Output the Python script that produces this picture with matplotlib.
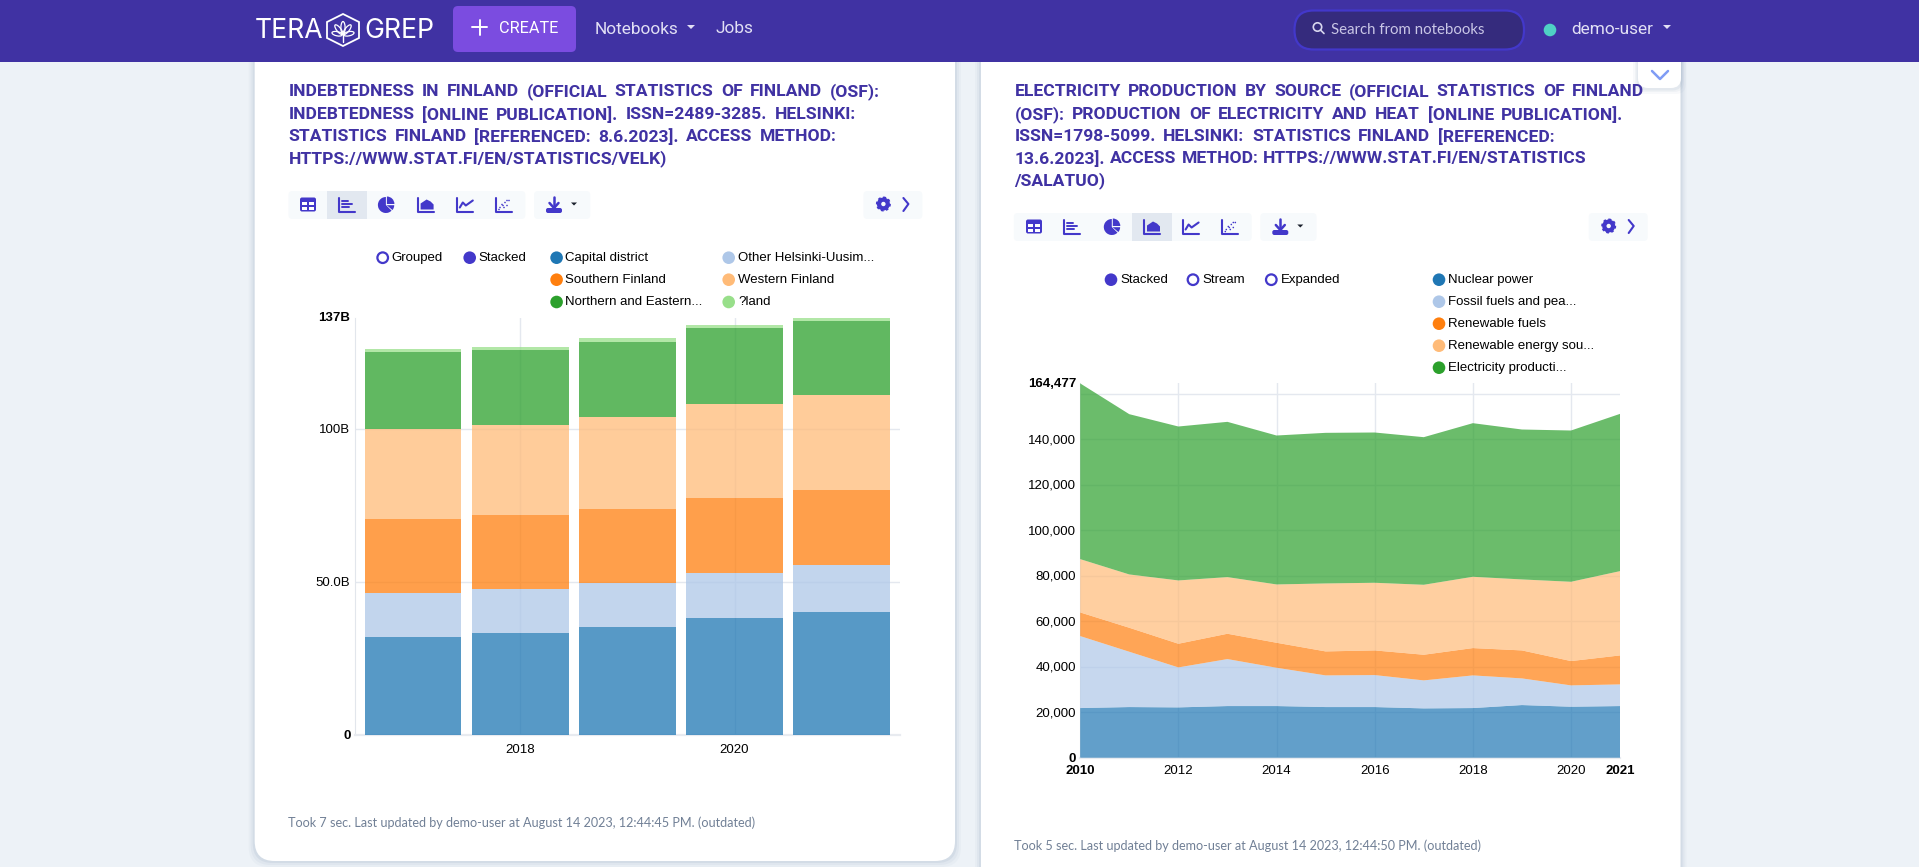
import numpy as np
import matplotlib
matplotlib.use("Agg")
import matplotlib.pyplot as plt
from matplotlib.patches import FancyBboxPatch, Rectangle, Circle, Polygon, Wedge, Ellipse
from matplotlib.transforms import ScaledTranslation

W, H = 1919, 867

# left chart, billions
bar_years = [2017, 2018, 2019, 2020, 2021]
bar_names = ["Capital district", "Other Helsinki-Uusim...", "Southern Finland", "Western Finland",
             "Northern and Eastern...", "?land"]
capital = [32.2, 33.45, 35.5, 38.2, 40.4]
other_uusimaa = [14.4, 14.4, 14.4, 14.9, 15.3]
southern = [24.1, 24.0, 24.2, 24.4, 24.4]
western = [29.55, 29.5, 29.9, 30.8, 31.0]
northern = [24.9, 24.5, 24.5, 24.8, 24.4]
aland = [0.95, 1.1, 1.2, 0.9, 1.0]

# right chart, GWh
area_years = list(range(2010, 2022))
area_names = ["Nuclear power", "Fossil fuels and pea...", "Renewable fuels", "Renewable energy sou...",
              "Electricity producti..."]
nuclear = [21816, 22255, 22108, 22694, 22694, 22255, 22255, 21669, 21816, 23133, 22401, 22694]
fossil = [31625, 24304, 17570, 20644, 16837, 13909, 14055, 12299, 14348, 11713, 9371, 9517]
renew_fuels = [10395, 10542, 10395, 11128, 10981, 10542, 10835, 11274, 12006, 12299, 10688, 12738]
renew_energy = [23426, 23426, 27819, 24890, 25623, 29868, 29722, 30746, 31332, 31186, 34846, 37042]
electricity = [77215, 70425, 67642, 68228, 65446, 66179, 66032, 64861, 67497, 65886, 66471, 69107]

colors = ["#1f77b4", "#aec7e8", "#ff7f0e", "#ffbb78", "#2ca02c", "#98df8a"]
indigo = "#4338ca"
title_col = "#4032a3"
chart_font = "Liberation Sans"
ui_font = "Roboto"


def px(size):
    return size * 0.72


fig = plt.figure(figsize=(W / 100, H / 100), dpi=100, facecolor="#edf2f7")
bg = fig.add_axes([0, 0, 1, 1])
bg.set_xlim(0, W)
bg.set_ylim(H, 0)
bg.axis("off")


def box(x0, y0, x1, y1, col, r=0, edge="none", lw=0, z=1, alpha=1):
    if r == 0:
        p = Rectangle((x0, y0), x1 - x0, y1 - y0, fc=col, ec=edge, lw=lw, zorder=z, alpha=alpha)
    else:
        p = FancyBboxPatch((x0 + r, y0 + r), x1 - x0 - 2 * r, y1 - y0 - 2 * r,
                           boxstyle=f"round,pad={r}", fc=col, ec=edge, lw=lw, zorder=z, alpha=alpha)
    bg.add_patch(p)


def label(x, y, s, size=13.25, col="black", font=chart_font, weight="normal", ha="left", z=6):
    return bg.text(x, y, s, fontsize=px(size), color=col, family=font, weight=weight,
                   ha=ha, va="center", zorder=z)


def line(xs, ys, col=indigo, lw=1.4, z=5):
    bg.plot(xs, ys, color=col, lw=lw, zorder=z, solid_capstyle="round", solid_joinstyle="round")


def caret(x, y, col="white", s=4):
    bg.add_patch(Polygon([(x - s, y - s / 2), (x + s, y - s / 2), (x, y + s / 2)], fc=col, ec="none", zorder=6))


def dot(x, y, col, hollow=False, r=6.3):
    if hollow:
        bg.add_patch(Circle((x, y), r - 1, fc="white", ec=col, lw=1.6, zorder=5))
    else:
        bg.add_patch(Circle((x, y), r, fc=col, ec="none", zorder=5))


def title_line(s, y, x0, x1):
    # words are spread out over the line
    words = s.split(" ")
    rend = fig.canvas.get_renderer()
    items = [label(x0, y + 1.2, w, size=17.5, col=title_col, font=ui_font, weight="bold") for w in words]
    widths = [t.get_window_extent(rend).width for t in items]
    gap = (x1 - x0 - sum(widths)) / max(len(words) - 1, 1)
    x = x0
    for t, w in zip(items, widths):
        t.set_x(x)
        x += w + gap


def icon(kind, cx, cy):
    s = 8
    if kind == "table":
        box(cx - s, cy - 7, cx + s, cy + 7, indigo, r=2, z=5)
        for xa, xb in [(cx - 6, cx - 1), (cx + 1, cx + 6)]:
            box(xa, cy - 3, xb, cy, "white", z=6)
            box(xa, cy + 2, xb, cy + 5, "white", z=6)
        return
    if kind == "pie":
        # y runs downwards on this axes, so angles go clockwise
        bg.add_patch(Wedge((cx - 0.5, cy + 0.5), s, 45, 270, fc=indigo, ec="none", zorder=5))
        bg.add_patch(Wedge((cx + 0.5, cy - 0.5), s - 0.5, 270, 360, fc=indigo, ec="none", zorder=5))
        bg.add_patch(Wedge((cx + 0.3, cy + 0.7), s - 0.5, 0, 40, fc=indigo, ec="none", zorder=5))
        return
    line([cx - s, cx - s, cx + s], [cy - s + 1, cy + s - 1, cy + s - 1], lw=1.5)
    if kind == "bar":
        for dy, w in [(-4, 6), (-1, 10), (2.5, 7)]:
            line([cx - s + 3, cx - s + 3 + w], [cy + dy, cy + dy], lw=1.4)
    elif kind == "area":
        bg.add_patch(Polygon([(cx - s + 3, cy + 5), (cx - s + 3, cy - 1), (cx - 2, cy - 3), (cx + 1, cy - 5),
                              (cx + 5, cy - 3), (cx + s, cy), (cx + s, cy + 5)], fc=indigo, ec="none", zorder=5))
    elif kind == "line":
        line([cx - s + 3, cx - 2, cx + 1, cx + s], [cy + 3, cy - 2, cy + 1, cy - 4], lw=1.5)
    elif kind == "scatter":
        for dx, dy in [(-4, 3), (-2, 0), (0, 3), (1, -2), (3, 1), (5, -4), (-1, 1), (3, -4), (-5, 5)]:
            bg.add_patch(Circle((cx + dx, cy + dy), 0.8, fc=indigo, ec="none", zorder=5))


def toolbar(x0, y0, cells, sel, dl, gear):
    y1 = y0 + 28
    cy = (y0 + y1) / 2
    box(x0, y0, cells[-1] + 21.4, y1, "#f7fafc", r=4, z=2)
    box(sel[0], y0, sel[1], y1, "#e2e8f0", z=3)
    for c, k in zip(cells, ["table", "bar", "pie", "area", "line", "scatter"]):
        icon(k, c, cy - 0.5)
    box(dl, y0, dl + 56.3, y1, "#f7fafc", r=4, z=2)
    x = dl + 20
    line([x, x], [cy - 8, cy + 2], lw=1.8)
    line([x - 4.5, x, x + 4.5], [cy - 2, cy + 3, cy - 2], lw=1.8)
    box(x - 8, cy + 3, x + 8, cy + 8, indigo, r=2, z=5)
    caret(dl + 40, cy - 1, col="#1a202c", s=3)
    box(gear, y0, gear + 59, y1, "#f7fafc", r=4, z=2)
    gx = gear + 20
    bg.add_patch(Circle((gx, cy - 1), 6.5, fc=indigo, ec=indigo, lw=1.4, ls=(0, (1.4, 1.2)), zorder=5))
    bg.add_patch(Circle((gx, cy - 1), 2.2, fc="#f7fafc", ec="none", zorder=6))
    line([gx + 20, gx + 25, gx + 20], [cy - 7, cy - 1, cy + 6], lw=1.5)


# page chrome
for d, a in [(6, 0.05), (4, 0.08), (2, 0.12)]:
    box(254.7 - d, 40, 955 + d, 861 + d, "#8296b4", r=20, z=0.5, alpha=a)
    box(981 - d, 40, 1680.5 + d, 900, "#8296b4", r=20, z=0.5, alpha=a)
box(254.7, 30, 955, 861, "white", r=20, z=1)
box(981, 30, 1680.5, 900, "white", r=20, z=1)
for d, a in [(5, 0.05), (3, 0.07), (1.5, 0.1)]:
    box(1638 - d, 40, 1681 + d, 88 + d + 1, "#8296b4", r=10, z=1.2, alpha=a)
box(1638, 40, 1681, 88, "white", r=10, z=1.5)
line([1652, 1660, 1668], [71, 79, 71], col="#7f9cf5", lw=1.8)

box(0, 0, W, 62, "#4032a3", z=4)
box(453, 6, 576, 52, "#7b4ce0", r=5, z=5)
line([472, 487], [27, 27], col="white", lw=1.4, z=6)
line([479.5, 479.5], [19.5, 34.5], col="white", lw=1.4, z=6)
label(499, 28.5, "CREATE", size=16.3, col="white", font=ui_font)

# logo
label(255, 31.5, "TERA", size=26.6, col="white", font="Inter")
label(364, 31.5, "GREP", size=26.6, col="white", font="Inter")
bg.add_patch(Polygon([(343, 14), (359, 22), (359, 38), (343, 46), (327, 38), (327, 22)],
                     fc="none", ec="white", lw=1.3, zorder=6))
for ang, ln in [(0, 9), (-38, 8.5), (38, 8.5), (-78, 7.5), (78, 7.5)]:
    rad = np.deg2rad(ang)
    c = (343 + np.sin(rad) * ln * 0.8, 35 - np.cos(rad) * ln * 0.8)
    bg.add_patch(Ellipse(c, 4.2, ln * 1.4, angle=ang, fc="none", ec="white", lw=0.9, zorder=6))
line([343, 343], [35, 42], col="white", lw=1, z=6)

label(594.6, 29.5, "Notebooks", size=17.3, col="#e2e0f5", font=ui_font)
caret(691, 27, col="#e2e0f5")
label(715, 28.5, "Jobs", size=17.3, col="#e2e0f5", font=ui_font)
box(1294.5, 10.5, 1524, 49.5, "#352b7d", r=19, edge="#4338ca", lw=1.6, z=5)
bg.add_patch(Circle((1317.5, 27), 4.2, fc="none", ec="#d8d6ee", lw=1.2, zorder=6))
line([1320.5, 1324], [30, 33.5], col="#d8d6ee", lw=1.2, z=6)
label(1331, 29.5, "Search from notebooks", size=15, col="#c9c6e6", font="Lato")
bg.add_patch(Circle((1550, 30), 6.3, fc="#4fd1c5", ec="none", zorder=6))
label(1571.6, 29.5, "demo-user", size=17.3, col="#e2e0f5", font=ui_font)
caret(1667, 27, col="#e2e0f5")

# titles
title_line("INDEBTEDNESS IN FINLAND (OFFICIAL STATISTICS OF FINLAND (OSF):", 90.7, 288.4, 880)
title_line("INDEBTEDNESS [ONLINE PUBLICATION]. ISSN=2489-3285. HELSINKI:", 113.7, 288.4, 856.5)
title_line("STATISTICS FINLAND [REFERENCED: 8.6.2023]. ACCESS METHOD:", 135.7, 288.4, 836.5)
title_line("HTTPS://WWW.STAT.FI/EN/STATISTICS/VELK)", 157.7, 288.4, 658)
title_line("ELECTRICITY PRODUCTION BY SOURCE (OFFICIAL STATISTICS OF FINLAND", 90.7, 1014.4, 1644)
title_line("(OSF): PRODUCTION OF ELECTRICITY AND HEAT [ONLINE PUBLICATION].", 113.7, 1014.4, 1623.6)
title_line("ISSN=1798-5099. HELSINKI: STATISTICS FINLAND [REFERENCED:", 135.7, 1014.4, 1554.5)
title_line("13.6.2023]. ACCESS METHOD: HTTPS://WWW.STAT.FI/EN/STATISTICS", 157.7, 1014.4, 1587)
title_line("/SALATUO)", 179.7, 1014.4, 1105)

toolbar(288.4, 191, [308, 346.6, 386.4, 425.6, 464.8, 504], (327, 367), 534, 863.4)
toolbar(1013.8, 213, [1034, 1072, 1112.3, 1152, 1190.6, 1230.3], (1131.9, 1172.2), 1260.3, 1588.7)

# legends
dot(382.7, 257.7, indigo, hollow=True)
label(391.5, 257.7, "Grouped")
dot(469.7, 257.7, indigo)
label(478, 257.7, "Stacked")
leg_x = [(556.6, 565), (728.7, 738)]
leg_y = [257.7, 279.7, 302]
for i, name in enumerate(bar_names):
    cx, tx = leg_x[i % 2]
    dot(cx, leg_y[i // 2], colors[i])
    label(tx, leg_y[i // 2], name)

dot(1111, 279.7, indigo)
label(1120, 279.7, "Stacked")
dot(1193, 279.7, indigo, hollow=True)
label(1202.8, 279.7, "Stream")
dot(1271.3, 279.7, indigo, hollow=True)
label(1280.5, 279.7, "Expanded")
for i, name in enumerate(area_names):
    dot(1439, 279.7 + 22 * i, colors[i])
    label(1448, 279.7 + 22 * i, name)

label(288.3, 822.5, "Took 7 sec. Last updated by demo-user at August 14 2023, 12:44:45 PM. (outdated)",
      size=12.6, col="#718096", font="Lato")
label(1014.3, 845.8, "Took 5 sec. Last updated by demo-user at August 14 2023, 12:44:50 PM. (outdated)",
      size=12.6, col="#718096", font="Lato")


def chart_axes(x0, y0, x1, y1, xpad):
    ax = fig.add_axes([x0 / W, 1 - y1 / H, (x1 - x0) / W, (y1 - y0) / H], facecolor="none")
    ax.set_axisbelow(True)
    for s in ["top", "right"]:
        ax.spines[s].set_visible(False)
    ax.spines["left"].set_color("#e2e6ec")
    ax.spines["left"].set_linewidth(0.8)
    ax.spines["bottom"].set_color("#e8ebf0")
    ax.spines["bottom"].set_linewidth(1.6)
    ax.grid(True, color="#e4e8ef", lw=1)
    ax.tick_params(length=0, labelsize=px(13.25), labelcolor="black")
    ax.tick_params(axis="y", pad=3)
    ax.tick_params(axis="x", pad=xpad)
    return ax


def finish_ticks(ax, axis, skip_grid, bold):
    ticks = ax.xaxis.get_major_ticks() if axis == "x" else ax.yaxis.get_major_ticks()
    for i, t in enumerate(ticks):
        t.label1.set_family(chart_font)
        if axis == "y":
            t.label1.set_transform(t.label1.get_transform() + ScaledTranslation(0, 0.6 / 100, fig.dpi_scale_trans))
        if i in skip_grid:
            t.gridline.set_visible(False)
        if i in bold:
            t.label1.set_fontweight("bold")


# bars
ax1 = chart_axes(354.6, 317.6, 900, 735.4, 6.5)
series = [capital, other_uusimaa, southern, western, northern, aland]
pos = np.arange(len(bar_years))
bottom = np.zeros(len(bar_years))
for vals, c in zip(series, colors):
    ax1.bar(pos, vals, width=0.9, bottom=bottom, color=c, alpha=0.75, lw=0, zorder=3)
    bottom += np.array(vals)
ax1.set_xlim(-0.548, 4.545)
ax1.set_ylim(0, bottom.max())
ax1.set_yticks([0, 50, 100, bottom.max()], ["0", "50.0B", "100B", "137B"])
ax1.set_xticks([1, 3], [bar_years[1], bar_years[3]])
finish_ticks(ax1, "y", [0, 3], [0, 3])
finish_ticks(ax1, "x", [], [])

# areas
ax2 = chart_axes(1080.2, 383.4, 1620.1, 757.7, 5)
ax2.stackplot(area_years, nuclear, fossil, renew_fuels, renew_energy, electricity,
              colors=colors[:5], alpha=0.7, lw=0, zorder=3)
top = np.sum([nuclear, fossil, renew_fuels, renew_energy, electricity], axis=0).max()
ax2.set_xlim(2010, 2021)
ax2.set_ylim(0, top)
y_ticks = [0, 20000, 40000, 60000, 80000, 100000, 120000, 140000, 160000, top]
y_labels = ["0", "20,000", "40,000", "60,000", "80,000", "100,000", "120,000", "140,000", "", f"{top:,}"]
ax2.set_yticks(y_ticks, y_labels)
ax2.set_xticks([2010, 2012, 2014, 2016, 2018, 2020, 2021], [2010, 2012, 2014, 2016, 2018, 2020, 2021])
finish_ticks(ax2, "y", [0, 9], [0, 9])
finish_ticks(ax2, "x", [0, 6], [0, 6])

fig.savefig("out.png", dpi=100, facecolor=fig.get_facecolor())
